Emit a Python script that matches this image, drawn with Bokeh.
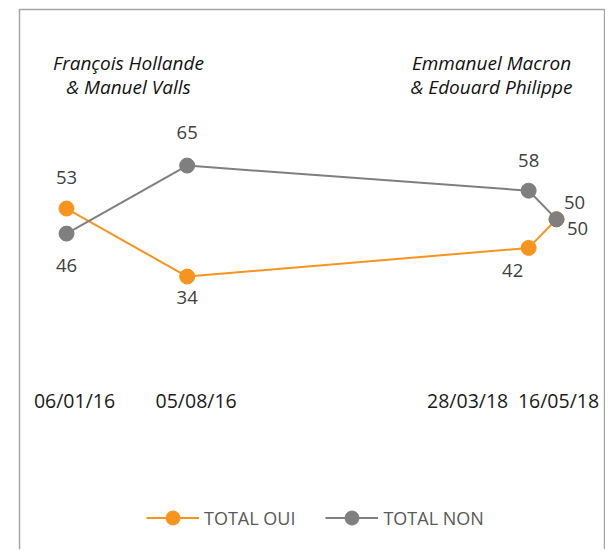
import pandas as pd
from bokeh.plotting import figure
from bokeh.models import ColumnDataSource, Range1d, Legend, LegendItem, Label
from bokeh.core.properties import value
from bokeh.embed import file_html
from bokeh.resources import INLINE

# ---- data ----
dates = ["2016-01-06", "2016-08-05", "2018-03-28", "2018-05-16"]
date_labels = ["06/01/16", "05/08/16", "28/03/18", "16/05/18"]
total_oui = [53, 34, 42, 50]
total_non = [46, 65, 58, 50]
series_names = ["TOTAL OUI", "TOTAL NON"]
period_left = ["François Hollande", "& Manuel Valls"]
period_right = ["Emmanuel Macron", "& Edouard Philippe"]

# ---- styles ----
ORANGE = "#F7941D"
GREY = "#7F7F7F"
FONT = "Open Sans"
# label offsets (px) per point
oui_dx = [0, 0, -16, 21]
oui_dy = [-31, 21, 23, 9]
non_dx = [0, 0, 0, 18]
non_dy = [32, -33, -30, -17]
date_dx = [8, 9, -61, 2]

x = pd.to_datetime(dates)

p = figure(width=605, height=551, x_axis_type="datetime",
           output_backend="svg", toolbar_location=None,
           min_border_left=19, min_border_right=1, min_border_top=9, min_border_bottom=0)
p.styles = {"clip-path": "inset(0px 0px 2px 0px)"}
p.x_range = Range1d(x[0] - pd.Timedelta(days=82.6), x[-1] + pd.Timedelta(days=84.3))
p.y_range = Range1d(-42.8, 108.6)
p.xaxis.visible = False
p.yaxis.visible = False
p.xgrid.visible = False
p.ygrid.visible = False
p.outline_line_color = "#A6A6A6"
p.outline_line_width = 1.5
p.background_fill_color = "white"
p.border_fill_color = "white"

src_oui = ColumnDataSource(dict(x=x, y=total_oui, t=[str(v) for v in total_oui], dx=oui_dx, dy=oui_dy))
src_non = ColumnDataSource(dict(x=x, y=total_non, t=[str(v) for v in total_non], dx=non_dx, dy=non_dy))

l_oui = p.line("x", "y", source=src_oui, line_color=ORANGE, line_width=2)
s_oui = p.scatter("x", "y", source=src_oui, size=15, fill_color=ORANGE, line_color=ORANGE)
l_non = p.line("x", "y", source=src_non, line_color=GREY, line_width=2)
s_non = p.scatter("x", "y", source=src_non, size=15, fill_color=GREY, line_color=GREY)

for src in (src_oui, src_non):
    p.text("x", "y", text="t", source=src, x_offset="dx", y_offset="dy",
           text_align="center", text_baseline="middle",
           text_font=value(FONT), text_font_size="18.5px", text_color="#404040")

src_dates = ColumnDataSource(dict(x=x, y=[0] * len(x), t=date_labels, dx=date_dx))
p.text("x", "y", text="t", source=src_dates, x_offset="dx", y_offset=2,
       text_align="center", text_baseline="middle",
       text_font=value(FONT), text_font_size="19.5px", text_color="#1a1a1a")

# period annotations (screen units relative to frame)
for i, t in enumerate(period_left):
    p.add_layout(Label(x=109, y=489 - 24 * i, x_units="screen", y_units="screen", text=t,
                       text_align="center", text_baseline="middle",
                       text_font=FONT, text_font_style="italic", text_font_size="19px",
                       text_color="#111111"))
for i, t in enumerate(period_right):
    p.add_layout(Label(x=472, y=489 - 24 * i, x_units="screen", y_units="screen", text=t,
                       text_align="center", text_baseline="middle",
                       text_font=FONT, text_font_style="italic", text_font_size="19px",
                       text_color="#111111"))

legend = Legend(items=[LegendItem(label=series_names[0], renderers=[l_oui, s_oui]),
                       LegendItem(label=series_names[1], renderers=[l_non, s_non])],
                orientation="horizontal", location=(127, 16),
                padding=0, margin=0, spacing=30,
                glyph_width=53, glyph_height=35, label_height=35, label_standoff=5,
                border_line_color=None, background_fill_alpha=0,
                label_text_font=FONT, label_text_font_size="18px", label_text_color="#595959")
p.add_layout(legend, "center")

open("out.html", "w").write(file_html(p, INLINE))
